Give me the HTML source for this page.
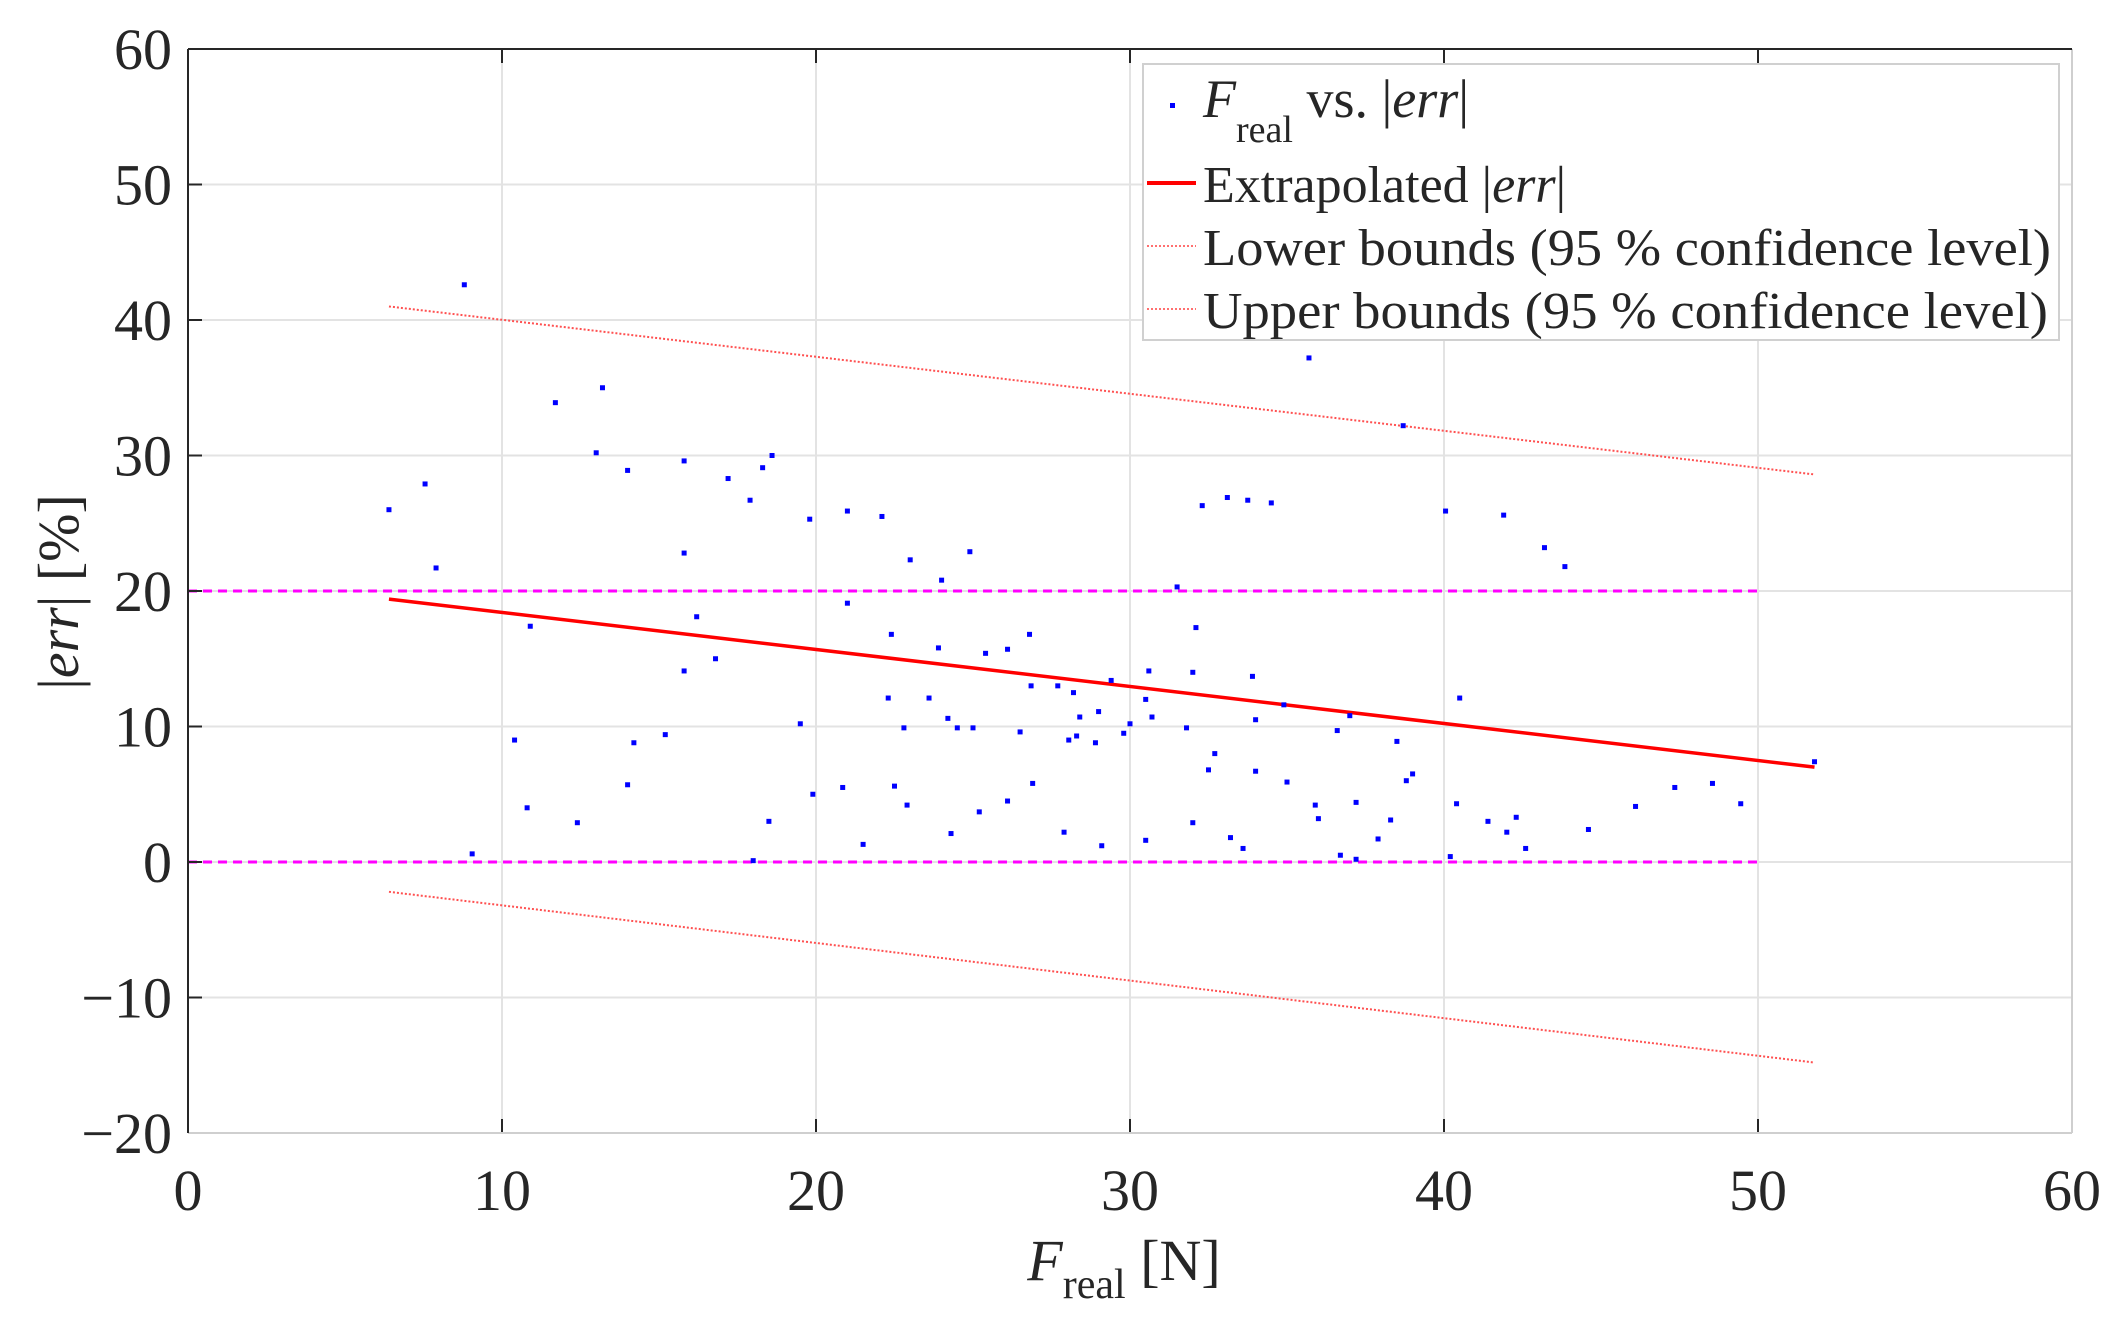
<!DOCTYPE html>
<html><head><meta charset="utf-8"><style>
html,body{margin:0;padding:0;background:#fff;}
svg{display:block;font-family:"Liberation Serif",serif;}
</style></head><body>
<svg id="chart" width="2124" height="1331" viewBox="0 0 2124 1331" xmlns="http://www.w3.org/2000/svg">
<g id="grid"></g>
<g id="refs"></g>
<g id="series"></g>
<g id="axes"></g>
<g id="legend">
  <rect x="1143" y="64" width="916" height="276" fill="#fff" stroke="#d0d0d0" stroke-width="2"/>
  <rect x="1170" y="103" width="5" height="5" fill="#0000ff"/>
  <text x="1203" y="117" font-size="54" fill="#262626"><tspan font-style="italic">F</tspan><tspan font-size="38" dy="25">real</tspan><tspan dy="-25"> vs. |</tspan><tspan font-style="italic">err</tspan>|</text>
  <line x1="1147" y1="183" x2="1196" y2="183" stroke="#ff0000" stroke-width="4"/>
  <text x="1203" y="202" font-size="52" fill="#262626">Extrapolated |<tspan font-style="italic">err</tspan>|</text>
  <line x1="1147" y1="246" x2="1196" y2="246" stroke="#ff4040" stroke-width="1.5" stroke-dasharray="2,2"/>
  <text x="1203" y="265" font-size="52" fill="#262626" textLength="848" lengthAdjust="spacingAndGlyphs">Lower bounds (95 % confidence level)</text>
  <line x1="1147" y1="309" x2="1196" y2="309" stroke="#ff4040" stroke-width="1.5" stroke-dasharray="2,2"/>
  <text x="1203" y="328" font-size="52" fill="#262626" textLength="845" lengthAdjust="spacingAndGlyphs">Upper bounds (95 % confidence level)</text>
</g>
<text x="1124" y="1280" text-anchor="middle" font-size="58" fill="#262626"><tspan font-style="italic">F</tspan><tspan font-size="42" dy="18">real</tspan><tspan dy="-18"> [N]</tspan></text>
<text transform="translate(78,592) rotate(-90)" text-anchor="middle" font-size="58" fill="#262626">|<tspan font-style="italic">err</tspan>| [%]</text>
</svg>
<script>
const xTicks = [0,10,20,30,40,50,60];
const yTicks = [-20,-10,0,10,20,30,40,50,60];
const pointsX = [6.4,7.55,7.9,8.8,9.05,10.4,10.8,10.9,11.7,12.4,13.0,13.2,14.0,14.0,14.2,15.2,15.8,15.8,15.8,16.2,16.8,17.2,17.9,18.0,18.3,18.5,18.6,19.5,19.8,19.9,20.85,21.0,21.0,21.5,22.1,22.3,22.4,22.5,22.8,22.9,23.0,23.6,23.9,24.0,24.2,24.3,24.5,24.9,25.0,25.2,25.4,26.1,26.1,26.5,26.8,26.85,26.9,27.7,27.9,28.05,28.2,28.3,28.4,28.9,29.0,29.1,29.4,29.8,30.0,30.5,30.6,30.7,30.5,31.5,31.8,32.0,32.0,32.1,32.3,32.5,32.7,33.1,33.2,33.6,33.75,33.9,34.0,34.0,34.5,34.9,35.0,35.7,35.9,36.0,36.6,36.7,37.0,37.2,37.2,37.9,38.3,38.5,38.7,38.8,39.0,40.05,40.2,40.5,40.4,41.4,41.9,42.0,42.3,42.6,43.2,43.85,44.6,46.1,47.35,48.55,49.45,51.8];
const pointsErr = [26.0,27.9,21.7,42.6,0.6,9.0,4.0,17.4,33.9,2.9,30.2,35.0,28.9,5.7,8.8,9.4,22.8,29.6,14.1,18.1,15.0,28.3,26.7,0.1,29.1,3.0,30.0,10.2,25.3,5.0,5.5,25.9,19.1,1.3,25.5,12.1,16.8,5.6,9.9,4.2,22.3,12.1,15.8,20.8,10.6,2.1,9.9,22.9,9.9,3.7,15.4,4.5,15.7,9.6,16.8,13.0,5.8,13.0,2.2,9.0,12.5,9.3,10.7,8.8,11.1,1.2,13.4,9.5,10.2,12.0,14.1,10.7,1.6,20.3,9.9,14.0,2.9,17.3,26.3,6.8,8.0,26.9,1.8,1.0,26.7,13.7,10.5,6.7,26.5,11.6,5.9,37.2,4.2,3.2,9.7,0.5,10.8,0.2,4.4,1.7,3.1,8.9,32.2,6.0,6.5,25.9,0.4,12.1,4.3,3.0,25.6,2.2,3.3,1.0,23.2,21.8,2.4,4.1,5.5,5.8,4.3,7.4];
const lineX = [6.4,51.8];
const fitErr = [19.4,7.0];
const upperErr = [41.0,28.6];
const lowerErr = [-2.2,-14.8];
const refX = [0,50];
const refLevels = [0,20];

const NS='http://www.w3.org/2000/svg';
const X0=188, XS=31.4, Y0=862, YS=13.55;
function sx(v){return X0+v*XS;}
function sy(v){return Y0-v*YS;}
function mk(tag,attrs,parent){const e=document.createElementNS(NS,tag);for(const k in attrs)e.setAttribute(k,attrs[k]);parent.appendChild(e);return e;}
const grid=document.getElementById('grid'), refs=document.getElementById('refs'), series=document.getElementById('series'), axes=document.getElementById('axes');
const L=sx(0),R=sx(60),T=sy(60),B=sy(-20);
mk('rect',{x:L,y:T,width:R-L,height:B-T,fill:'#fff'},grid);
xTicks.forEach(t=>{
  const g=mk('line',{x1:sx(t),y1:T,x2:sx(t),y2:B,stroke:'#e3e3e3','stroke-width':2},grid);
  
  
  const tk=mk('line',{x1:sx(t),y1:B,x2:sx(t),y2:B-14,stroke:'#262626','stroke-width':2},axes);
  
  
  mk('line',{x1:sx(t),y1:T,x2:sx(t),y2:T+14,stroke:'#262626','stroke-width':2},axes);
  const lb=mk('text',{x:sx(t),y:1210,'text-anchor':'middle','font-size':58,fill:'#262626'},axes);
  lb.textContent=t;
  
  
});
yTicks.forEach(t=>{
  const g=mk('line',{x1:L,y1:sy(t),x2:R,y2:sy(t),stroke:'#e3e3e3','stroke-width':2},grid);
  
  
  const tk=mk('line',{x1:L,y1:sy(t),x2:L+14,y2:sy(t),stroke:'#262626','stroke-width':2},axes);
  
  
  const lb=mk('text',{x:172,y:sy(t)+20,'text-anchor':'end','font-size':58,fill:'#262626'},axes);
  lb.textContent=(t<0?'\u2212'+(-t):t);
  
  
});
mk('line',{x1:R,y1:T,x2:R,y2:B,stroke:'#cfcfcf','stroke-width':2},axes);
mk('line',{x1:L,y1:B,x2:R,y2:B,stroke:'#cfcfcf','stroke-width':2},axes);
mk('line',{x1:L,y1:T,x2:R,y2:T,stroke:'#262626','stroke-width':2},axes);
mk('line',{x1:L,y1:T,x2:L,y2:B,stroke:'#262626','stroke-width':2},axes);
refLevels.forEach(v=>{
  const r=mk('line',{x1:sx(refX[0]),y1:sy(v),x2:sx(refX[1]),y2:sy(v),stroke:'#ff00ff','stroke-width':3,'stroke-dasharray':'9,6'},refs);
  
  
});
const up=mk('line',{x1:sx(lineX[0]),y1:sy(upperErr[0]),x2:sx(lineX[1]),y2:sy(upperErr[1]),stroke:'#ff5050','stroke-width':2,'stroke-dasharray':'2,2'},series);


const lo=mk('line',{x1:sx(lineX[0]),y1:sy(lowerErr[0]),x2:sx(lineX[1]),y2:sy(lowerErr[1]),stroke:'#ff5050','stroke-width':2,'stroke-dasharray':'2,2'},series);


const fit=mk('line',{x1:sx(lineX[0]),y1:sy(fitErr[0]),x2:sx(lineX[1]),y2:sy(fitErr[1]),stroke:'#ff0000','stroke-width':3.5},series);


pointsX.forEach((x,i)=>{
  const p=mk('rect',{x:sx(x)-2.5,y:sy(pointsErr[i])-2.5,width:5,height:5,fill:'#0000ff'},series);
  
  
});
</script>
</body></html>
